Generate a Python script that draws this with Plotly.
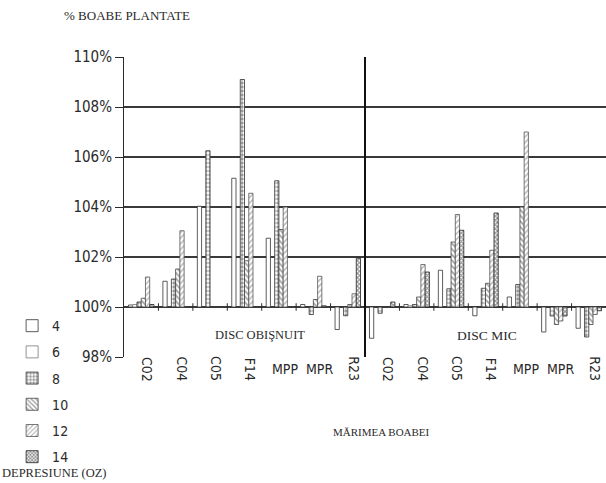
import plotly.graph_objects as go

# ===== data (deviation from 100%) =====
CATEGORII = ["C02", "C04", "C05", "F14", "MPP", "MPR", "R23",
             "C02", "C04", "C05", "F14", "MPP", "MPR", "R23"]
ROTITE = {"C02", "C04", "C05", "F14", "R23"}  # MPP / MPR stay horizontal

SERII = ["4", "6", "8", "10", "12", "14"]

D4 = [0.08, 1.03, 4.03, 5.15, 2.75, 0.1, -0.9,
      -1.25, 0.1, 1.47, -0.35, 0.4, -1.0, -0.85]
D6 = [0.1, None, None, None, None, None, None,
      None, 0.05, None, None, None, None, None]
D8 = [0.2, 1.12, 6.25, 9.1, 5.05, -0.3, -0.35,
      -0.25, 0.1, 0.73, 0.75, 0.9, -0.36, -1.2]
D10 = [0.35, 1.52, None, 1.85, 3.1, 0.3, 0.1,
       None, 0.4, 2.6, 0.95, 4.0, -0.7, -0.7]
D12 = [1.2, 3.05, None, 4.55, 4.0, 1.23, 0.53,
       None, 1.7, 3.7, 2.27, 7.0, -0.56, -0.3]
D14 = [0.1, None, None, None, None, 0.05, 1.95,
       0.2, 1.4, 3.07, 3.76, None, -0.36, -0.15]

Y_TICKS = [98, 100, 102, 104, 106, 108, 110]

# ===== style =====
NARROW = "DejaVu Sans Condensed, Liberation Sans Narrow, sans-serif"
SERIF = "Liberation Serif, DejaVu Serif, serif"
INK = "#2a2a2a"

STILURI = {
    "4": dict(shape="", fg=INK, size=4, sol=0.3, line="#333333"),
    "6": dict(shape="", fg=INK, size=4, sol=0.3, line="#777777"),
    "8": dict(shape=".", fg="#333333", size=4, sol=0.55, line="#333333"),
    "10": dict(shape="\\", fg="#444444", size=4, sol=0.45, line="#444444"),
    "12": dict(shape="/", fg="#666666", size=4, sol=0.35, line="#555555"),
    "14": dict(shape="x", fg="#222222", size=3, sol=0.6, line="#222222"),
}

valori = [D4, D6, D8, D10, D12, D14]
xs = list(range(len(CATEGORII)))

fig = go.Figure()
for nume, vals in zip(SERII, valori):
    s = STILURI[nume]
    fig.add_trace(go.Bar(
        x=xs, y=vals, base=100, name=nume, legendgroup=nume,
        marker=dict(
            color="white",
            line=dict(color=s["line"], width=0.8),
            pattern=dict(shape=s["shape"], fgcolor=s["fg"], bgcolor="white",
                         size=s["size"], solidity=s["sol"]),
        ),
    ))

# tick marks crossing the 100% line at category borders
for i in range(len(CATEGORII) - 1):
    if i == 6:
        continue
    fig.add_shape(type="line", x0=i + 0.5, x1=i + 0.5, y0=99.85, y1=100.15,
                  xref="x", yref="y", line=dict(color=INK, width=1))

# separator between the two disc types
fig.add_shape(type="line", x0=6.5, x1=6.5, y0=Y_TICKS[0], y1=Y_TICKS[-1],
              xref="x", yref="y", line=dict(color="#111111", width=2))

# category labels
for i, c in enumerate(CATEGORII):
    fig.add_annotation(
        x=i + 0.17, xref="x", y=-0.04, yref="paper",
        text=c, showarrow=False, textangle=90 if c in ROTITE else 0,
        font=dict(family=NARROW, size=14, color=INK),
        xanchor="center", yanchor="middle",
    )

fig.add_annotation(x=3.45, y=98.88, xref="x", yref="y", text="DISC OBIŞNUIT",
                   showarrow=False, font=dict(family=SERIF, size=12.5, color=INK))
fig.add_annotation(x=10.05, y=98.88, xref="x", yref="y", text="DISC MIC",
                   showarrow=False, font=dict(family=SERIF, size=13.5, color=INK))
fig.add_annotation(x=-0.128, y=1.14, xref="paper", yref="paper", text="% BOABE PLANTATE",
                   showarrow=False, xanchor="left", yanchor="middle",
                   font=dict(family=SERIF, size=13, color=INK))
fig.add_annotation(x=0.535, y=-0.277, xref="paper", yref="paper", text="MĂRIMEA BOABEI",
                   showarrow=False, font=dict(family=SERIF, size=11, color=INK))
fig.add_annotation(x=-0.257, y=-0.387, xref="paper", yref="paper", text="DEPRESIUNE (OZ)",
                   showarrow=False, xanchor="left", yanchor="middle",
                   font=dict(family=SERIF, size=12.5, color=INK))

fig.update_layout(
    width=606, height=483,
    margin=dict(l=124, r=0, t=57, b=126, autoexpand=False),
    paper_bgcolor="white", plot_bgcolor="white",
    barmode="group", bargap=0.26, bargroupgap=0,
    showlegend=True,
    legend=dict(
        xref="container", yref="container", x=0.02, y=0.358,
        xanchor="left", yanchor="top",
        font=dict(family=NARROW, size=14, color=INK),
        tracegroupgap=5, itemwidth=30, bgcolor="rgba(0,0,0,0)",
    ),
    xaxis=dict(range=[-0.5, len(CATEGORII) - 0.5], showticklabels=False,
               showgrid=False, zeroline=False, showline=False, ticks=""),
    yaxis=dict(range=[Y_TICKS[0], Y_TICKS[-1]], tickvals=Y_TICKS,
               ticktext=[f"{v}%" for v in Y_TICKS],
               tickfont=dict(family=NARROW, size=15, color=INK),
               showgrid=True, gridcolor="#3a3a3a", gridwidth=1.5,
               showline=True, linecolor=INK, linewidth=1,
               ticks="outside", ticklen=8, tickcolor=INK,
               zeroline=False),
)

# page body margin would shift the whole figure by 8px
fig.write_html("out.html", config={"displayModeBar": False},
               post_script="document.body.style.margin='0';")
